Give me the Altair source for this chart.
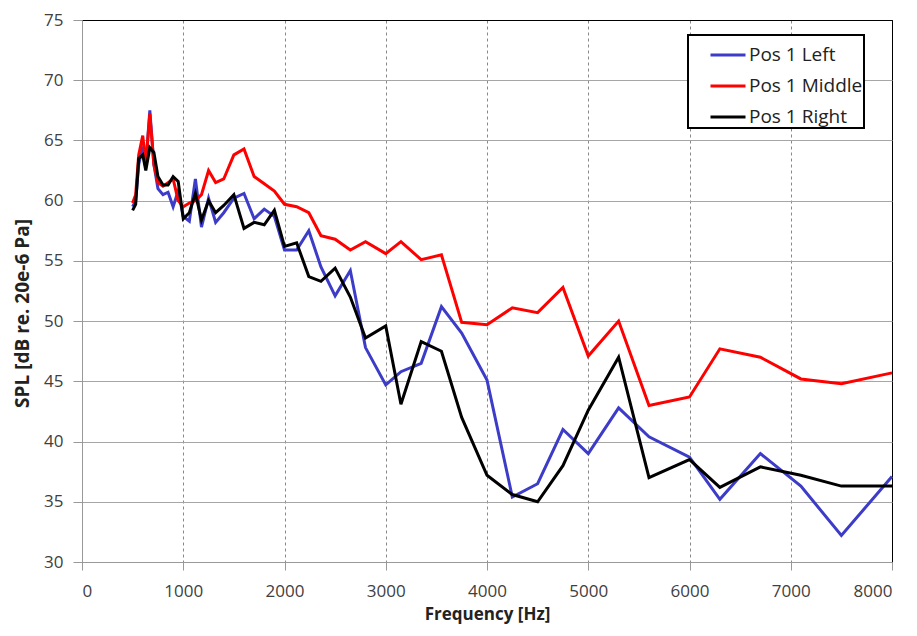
import altair as alt
import pandas as pd

freqs = [500, 530, 560, 600, 630, 670, 710, 750, 800, 850, 900, 950, 1000, 1060, 1120, 1180,
         1250, 1320, 1400, 1500, 1600, 1700, 1800, 1900, 2000, 2120, 2240, 2360, 2500, 2650,
         2800, 3000, 3150, 3350, 3550, 3750, 4000, 4250, 4500, 4750, 5000, 5300, 5600, 6000,
         6300, 6700, 7100, 7500, 8000]

left = [59.5, 60.0, 63.0, 64.5, 63.0, 67.5, 63.0, 61.0, 60.5, 60.7, 59.5, 60.8, 58.7, 58.3, 61.8, 57.8,
        60.2, 58.2, 59.0, 60.2, 60.6, 58.5, 59.3, 58.7, 55.9, 55.9, 57.5, 54.5, 52.1, 54.2,
        47.8, 44.7, 45.8, 46.5, 51.2, 49.0, 45.1, 35.4, 36.5, 41.0, 39.0, 42.8, 40.4, 38.7,
        35.2, 39.0, 36.3, 32.2, 37.1]

middle = [59.8, 60.5, 63.8, 65.4, 63.0, 67.2, 63.0, 61.5, 61.2, 61.5, 61.8, 60.0, 59.5, 59.8, 60.0, 60.5,
          62.5, 61.5, 61.8, 63.8, 64.3, 62.0, 61.4, 60.8, 59.7, 59.5, 59.0, 57.1, 56.8, 55.9,
          56.6, 55.6, 56.6, 55.1, 55.5, 49.9, 49.7, 51.1, 50.7, 52.8, 47.1, 50.0, 43.0, 43.7,
          47.7, 47.0, 45.2, 44.8, 45.7]

right = [59.2, 59.7, 63.5, 63.8, 62.5, 64.4, 64.0, 62.0, 61.3, 61.3, 62.0, 61.6, 58.5, 59.0, 60.6, 58.4,
         60.0, 59.0, 59.6, 60.5, 57.7, 58.2, 58.0, 59.2, 56.2, 56.5, 53.7, 53.3, 54.4, 52.0,
         48.6, 49.6, 43.1, 48.3, 47.5, 42.0, 37.2, 35.6, 35.0, 38.0, 42.6, 47.0, 37.0, 38.5,
         36.2, 37.9, 37.2, 36.3, 36.3]

series_names = ["Pos 1 Left", "Pos 1 Middle", "Pos 1 Right"]
colors = ["#3c3cc8", "#ff0000", "#000000"]

rows = []
for name, vals in zip(series_names, [left, middle, right]):
    for i, (f, v) in enumerate(zip(freqs, vals)):
        rows.append({"freq": f, "spl": v, "series": name, "order": i})
df = pd.DataFrame(rows)

font = "Open Sans"

lines = alt.Chart(df).mark_line(strokeWidth=3, strokeJoin="miter").encode(
    x=alt.X("freq:Q", scale=alt.Scale(domain=[0, 8000], nice=False),
            axis=alt.Axis(title="Frequency [Hz]", values=list(range(0, 8001, 1000)), format="d",
                          gridDash=alt.condition("datum.value == 8000", alt.value([]), alt.value([3, 3])),
                          gridColor=alt.condition("datum.value == 8000", alt.value("#000000"), alt.value("#888888")),
                          grid=True,
                          domainColor="#999999", tickColor="#999999", tickSize=8,
                          labelFontSize=17, labelColor="#404040", labelPadding=13,
                          titleFontSize=17, titleFontWeight="bold", titleColor="#222222",
                          titlePadding=7, labelFont=font, titleFont=font)),
    y=alt.Y("spl:Q", scale=alt.Scale(domain=[30, 75], nice=False, zero=False),
            axis=alt.Axis(title="SPL [dB re. 20e-6 Pa]", values=list(range(30, 76, 5)),
                          gridColor=alt.condition("datum.value == 75", alt.value("#000000"), alt.value("#a6a6a6")),
                          grid=True,
                          domainColor="#999999", tickColor="#999999", tickSize=9,
                          labelFontSize=17, labelColor="#404040", labelPadding=10,
                          titleFontSize=19, titleFontWeight="bold", titleColor="#222222",
                          titlePadding=11, titleY=293, labelFont=font, titleFont=font)),
    color=alt.Color("series:N", scale=alt.Scale(domain=series_names, range=colors),
                    legend=alt.Legend(title=None, orient="none", legendX=606, legendY=15,
                                      symbolType="stroke", symbolStrokeWidth=3, symbolSize=1225,
                                      symbolOffset=20,
                                      labelFontSize=19, labelFont=font, labelColor="#222222",
                                      labelLimit=400,
                                      strokeColor="#000000", fillColor="#ffffff",
                                      padding=1, rowPadding=2, labelOffset=2)),
    order="order:Q",
)

chart = lines.properties(
    width=810, height=542,
    autosize=alt.AutoSizeParams(type="none"),
    padding={"left": 74, "top": 12, "right": 17, "bottom": 66},
    background="white",
).configure_view(stroke="#000000", strokeWidth=1).configure_legend(strokeWidth=2)

chart.save("out.html", embed_options={"renderer": "svg", "actions": False})
